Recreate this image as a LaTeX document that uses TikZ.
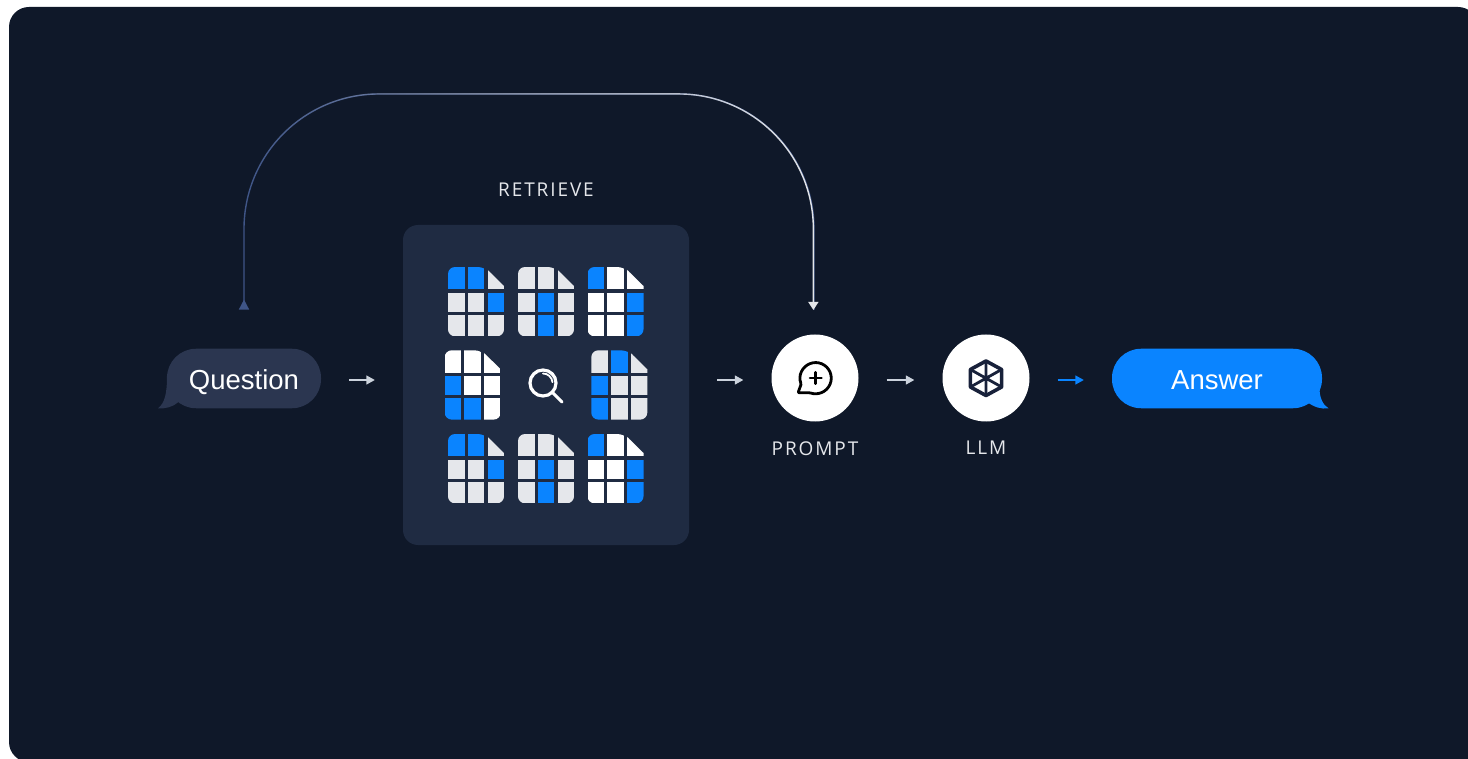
\documentclass[tikz,border=0pt]{standalone}
\usepackage{fontspec}
\setmainfont{Liberation Sans}
\newfontfamily\tagfont[LetterSpace=10]{Open Sans}
\usetikzlibrary{positioning,arrows.meta,fadings}
\definecolor{nightbg}{HTML}{0F1829}
\definecolor{panelbg}{HTML}{1F2B42}
\definecolor{bubblebg}{HTML}{2B3650}
\definecolor{docblue}{HTML}{0A84FF}
\definecolor{docgrey}{HTML}{E5E7EB}
\definecolor{flowgrey}{HTML}{CBD2DC}
\definecolor{loopblue}{HTML}{3F5587}
\definecolor{iconink}{HTML}{18213A}
\newcommand{\docicon}[3]{
    \begin{scope}[shift={(#1,#2)}]
        \clip[rounded corners=7] (0,30) -- (0,0) -- (36.5,0) [sharp corners] -- (39.7,3) -- (56,19) [rounded corners=7] -- (56,69.3) -- (0,69.3) -- cycle;
        \foreach \tone [count=\n from 0] in {#3} {
            \pgfmathsetmacro{\cx}{{0,19.7,39.7}[mod(\n,3)]}
            \pgfmathsetmacro{\cy}{{0,25.7,48}[int(\n/3)]}
            \pgfmathsetmacro{\ch}{{22.3,19.3,21.3}[int(\n/3)]}
            \fill[\tone] (\cx,\cy) rectangle ++(16.6,\ch);
        }
    \end{scope}
}
\begin{document}
\begin{tikzpicture}[
    x=1pt, y=-1pt,
    bubble/.style={rectangle, rounded corners=29pt, minimum height=59.5pt, inner sep=0pt, text=white, text height=21pt, text depth=0pt, font=\fontsize{27.5}{30}\selectfont},
    badge/.style={circle, fill=white, minimum size=87pt, inner sep=0pt},
    tag/.style={inner sep=0pt, text=docgrey, font=\tagfont\fontsize{19}{21}\selectfont},
    flow/.style={-{Triangle[length=8.5pt,width=9pt]}, line width=1.5pt, flowgrey, shorten <=#1, shorten >=#1},
    loopline/.style={rounded corners=135pt, line width=1.4pt, shorten <=39pt, shorten >=24.5pt}
]

\fill[white] (0,0) rectangle (1468,759);
\useasboundingbox (0,0) rectangle (1468,759);
\fill[nightbg, rounded corners=20pt] (9,7) rectangle (1478,762);

\coordinate (flowrow) at (0,380);
\coordinate (looptop) at (0,94);
\coordinate (promptdrop) at (814,334.5);

\fill[bubblebg] (167,376) .. controls (167,393) and (165,403) .. (158,408.3) .. controls (165,409) and (173,407) .. (178.5,402) -- (190,390) -- cycle;
\node[bubble, fill=bubblebg, minimum width=154pt] (question) at (244,378.5) {Question};

\node[rectangle, fill=panelbg, rounded corners=15pt, minimum width=286pt, minimum height=320pt] (retrieve) at (546,385) {};
\node[tag, above=28.5pt of retrieve] (retrievetag) {RETRIEVE};

\node[badge] (prompt) at (815,378) {};
\node[tag, below=19.5pt of prompt] (prompttag) {PROMPT};
\node[badge] (llm) at (986,378) {};
\node[tag, below=19.5pt of llm] (llmtag) {LLM};

\fill[docblue] (1319.5,388) .. controls (1319.5,398) and (1323,405) .. (1328.5,408.3) .. controls (1321,409.5) and (1314,407) .. (1307,402) -- (1295,390) -- cycle;
\node[bubble, fill=docblue, minimum width=210pt] (answer) at (1217,378.5) {Answer};

\docicon{448}{267}{docblue,docblue,docgrey,docgrey,docgrey,docblue,docgrey,docgrey,docgrey}
\docicon{518}{267}{docgrey,docgrey,docgrey,docgrey,docblue,docgrey,docgrey,docblue,docgrey}
\docicon{587.5}{267}{docblue,white,white,white,white,docblue,white,white,docblue}
\docicon{444.7}{350.3}{white,white,white,docblue,white,white,docblue,docblue,white}
\docicon{591.3}{350.3}{docgrey,docblue,docgrey,docblue,docgrey,docgrey,docblue,docgrey,docgrey}
\docicon{448}{434}{docblue,docblue,docgrey,docgrey,docgrey,docblue,docgrey,docgrey,docgrey}
\docicon{518}{434}{docgrey,docgrey,docgrey,docgrey,docblue,docgrey,docgrey,docblue,docgrey}
\docicon{587.5}{434}{docblue,white,white,white,white,docblue,white,white,docblue}

\draw[white, line width=3.2pt] (543,383) circle (13pt);
\draw[white, line width=3pt, line cap=round] (553,393) -- (562,402);
\draw[white, line width=1.8pt, line cap=round] (543,373.5) arc (90:5:9.5pt);

\draw[black, line width=2.8pt, line join=round, rounded corners=1pt] (801.2,384) arc (202:-110:15.6pt) -- (798,392.8) -- cycle;
\draw[black, line width=2.6pt, line cap=round] (810,378) -- (821.5,378) (815.7,372.3) -- (815.7,383.7);

\draw[iconink, line width=3.6pt, line join=round] (986,361) -- (1001.6,369.5) -- (1001.6,387) -- (986,395.5) -- (970.4,387) -- (970.4,369.5) -- cycle;
\draw[iconink, line width=2.8pt] (986,361) -- (986,395.5) (970.4,369.5) -- (1001.6,387) (970.4,387) -- (1001.6,369.5);

\draw[flow=28pt] (question.east |- flowrow) -- (retrieve.west |- flowrow);
\draw[flow=28pt] (retrieve.east |- flowrow) -- (prompt.west |- flowrow);
\draw[flow=28pt] (prompt.east |- flowrow) -- (llm.west |- flowrow);
\draw[flow=28pt, docblue] (llm.east |- flowrow) -- (answer.west |- flowrow);

\draw[loopline, loopblue, {Triangle[length=10pt,width=10pt,reversed]}-] (question.north) -- (question.north |- looptop) -- (promptdrop |- looptop) -- (promptdrop);
\draw[loopline, docgrey, path fading=west, -{Triangle[length=8pt,width=10pt]}] (question.north) -- (question.north |- looptop) -- (promptdrop |- looptop) -- (promptdrop);

\end{tikzpicture}
\end{document}
